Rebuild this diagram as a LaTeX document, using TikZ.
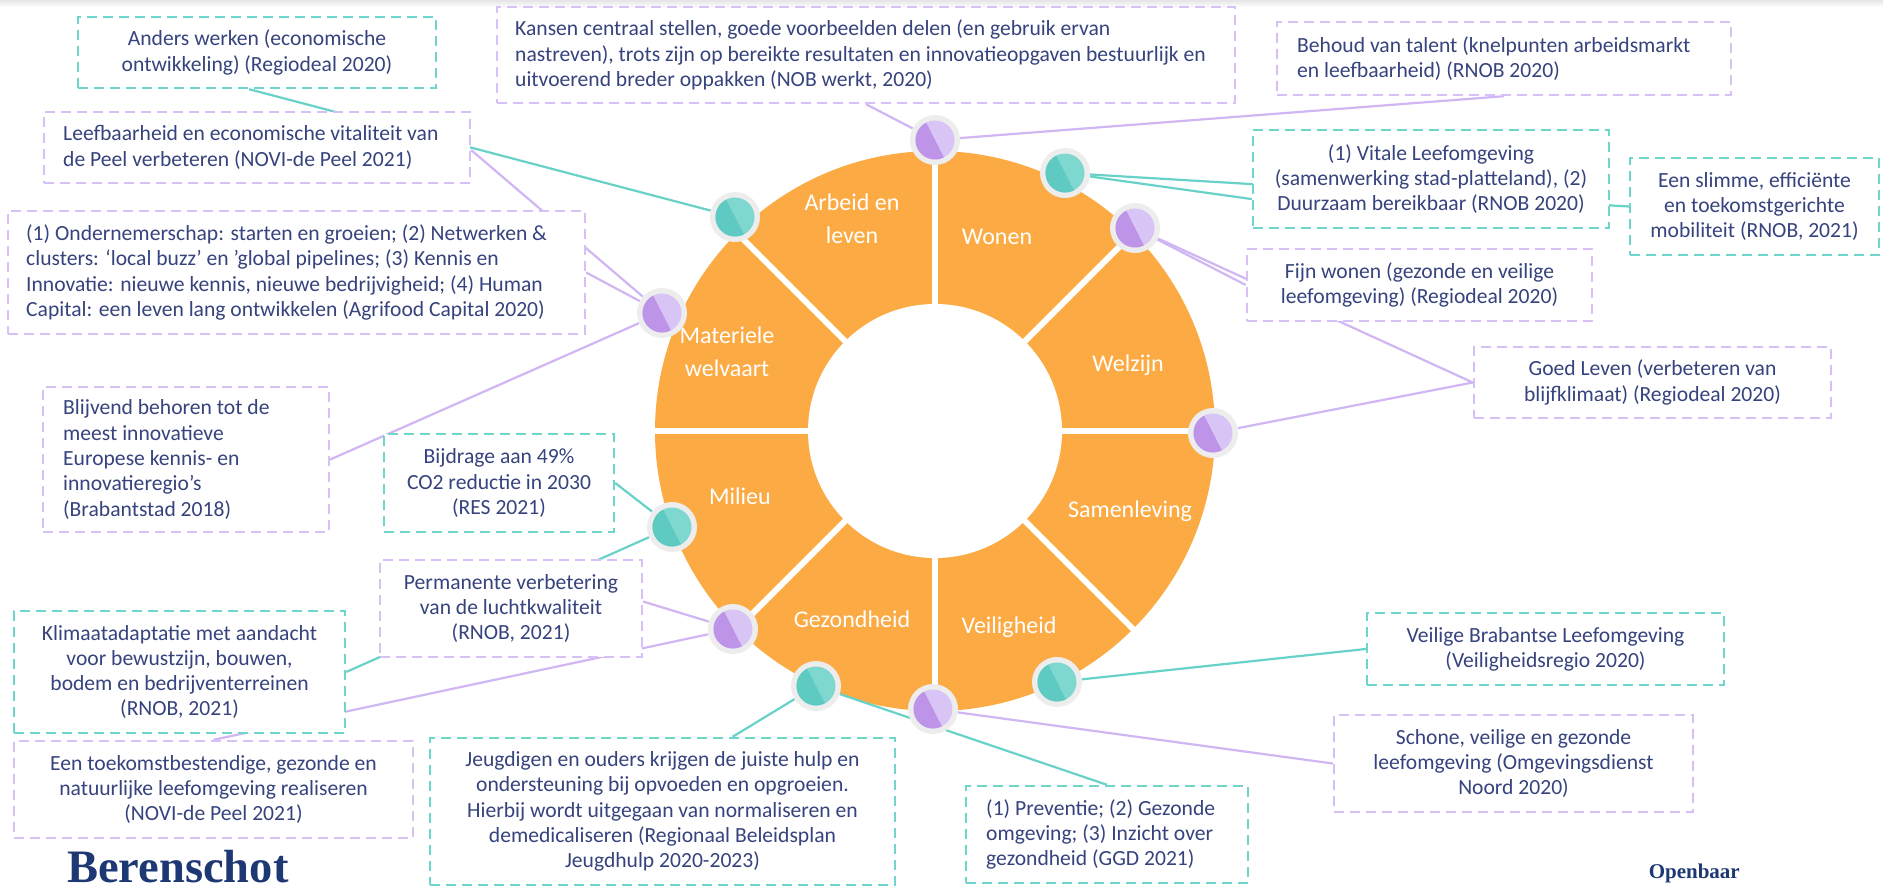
\documentclass[tikz,border=0pt]{standalone}
\usepackage{fontspec}
\setmainfont{Carlito}
\newfontfamily\logofont{Liberation Serif}
\usetikzlibrary{calc}
\definecolor{ringor}{RGB}{252,170,67}
\definecolor{tealdash}{RGB}{112,214,205}
\definecolor{purpdash}{RGB}{214,192,245}
\definecolor{teallink}{RGB}{105,210,200}
\definecolor{purplink}{RGB}{208,182,242}
\definecolor{mkring}{RGB}{237,237,237}
\definecolor{mpd}{RGB}{190,148,232}
\definecolor{mpl}{RGB}{217,197,245}
\definecolor{mtd}{RGB}{94,202,194}
\definecolor{mtl}{RGB}{126,216,208}
\definecolor{txtblue}{RGB}{54,67,125}
\definecolor{logoblue}{RGB}{30,56,115}
\newcommand\boxfont{\fontsize{21.6bp}{25.3bp}\selectfont}
\newcommand\lblfont{\fontsize{24bp}{33bp}\selectfont}
\pgfdeclarelayer{bglayer}
\pgfdeclarelayer{ringlayer}
\pgfdeclarelayer{linklayer}
\pgfsetlayers{bglayer,ringlayer,linklayer,main}
\tikzset{
  tbx/.style={draw=tealdash, line width=2.4bp, dash pattern=on 10bp off 6bp, fill=white,
    inner sep=0pt, align=center, text=txtblue, font=\boxfont},
  pbx/.style={draw=purpdash, line width=2.4bp, dash pattern=on 10bp off 6bp, fill=white,
    inner sep=0pt, align=center, text=txtblue, font=\boxfont},
  txt/.style={inner sep=0pt, align=left, text=txtblue, font=\boxfont},
  lbl/.style={inner sep=0pt, align=center, text=white, font=\lblfont},
  tl/.style={draw=teallink, line width=2.2bp},
  pl/.style={draw=purplink, line width=2.2bp},
  mkp/.style={circle, inner sep=0pt, minimum size=50bp, fill=mkring, path picture={
    \fill[mpl] (path picture bounding box.center) circle[radius=19.5bp];
    \fill[mpd] (path picture bounding box.center) ++(117:19.5bp)
      arc[start angle=117, end angle=297, radius=19.5bp] -- cycle;}},
  mkt/.style={circle, inner sep=0pt, minimum size=50bp, fill=mkring, path picture={
    \fill[mtl] (path picture bounding box.center) circle[radius=19.5bp];
    \fill[mtd] (path picture bounding box.center) ++(117:19.5bp)
      arc[start angle=117, end angle=297, radius=19.5bp] -- cycle;}}
}
\begin{document}
\begin{tikzpicture}[x=1bp,y=-1bp]
\useasboundingbox (0,0) rectangle (1883,887);
\begin{pgfonlayer}{bglayer}
\fill[white] (0,0) rectangle (1883,887);
\shade[top color=black!10, bottom color=white] (0,0) rectangle (1883,7);
\end{pgfonlayer}

% ring
\coordinate (C) at (935,431);
\begin{pgfonlayer}{ringlayer}
\fill[ringor] (C) circle[radius=280bp];
\fill[white] (C) circle[radius=127bp];
\foreach \a in {0,45,...,315}
  \draw[white, line width=6bp] ($(C)+(\a:122bp)$) -- ($(C)+(\a:284bp)$);
\end{pgfonlayer}

% segment labels
\node[lbl] (l1) at (852,219) {Arbeid en\\leven};
\node[lbl, anchor=base] (l2) at (997,244) {Wonen};
\node[lbl, anchor=base] (l3) at (1128,371) {Welzijn};
\node[lbl, anchor=base] (l4) at (1130,517) {Samenleving};
\node[lbl, anchor=base] (l5) at (1009,633) {Veiligheid};
\node[lbl, anchor=base] (l6) at (852,627) {Gezondheid};
\node[lbl, anchor=base] (l7) at (740,504) {Milieu};
\node[lbl] (l8) at (727,352) {Materiele\\welvaart};

% boxes
\node[tbx, minimum width=358bp, minimum height=71bp] (b1) at (257,52.5)
  {Anders werken (economische\\ontwikkeling) (Regiodeal 2020)};
\node[pbx, minimum width=426bp, minimum height=71bp] (b2) at (257,147.5) {};
\node[txt, anchor=west] (t2) at (63,147.5)
  {Leefbaarheid en economische vitaliteit van\\de Peel verbeteren (NOVI-de Peel 2021)};
\node[pbx, minimum width=738bp, minimum height=96bp] (b3) at (866,55) {};
\node[txt, anchor=west] (t3) at (515,55)
  {Kansen centraal stellen, goede voorbeelden delen (en gebruik ervan\\nastreven), trots zijn op bereikte resultaten en innovatieopgaven bestuurlijk en\\uitvoerend breder oppakken (NOB werkt, 2020)};
\node[pbx, minimum width=454bp, minimum height=73bp] (b4) at (1504,58.5) {};
\node[txt, anchor=west] (t4) at (1297,58.5)
  {Behoud van talent (knelpunten arbeidsmarkt\\en leefbaarheid) (RNOB 2020)};
\node[tbx, minimum width=356bp, minimum height=98bp] (b5) at (1431,179)
  {(1) Vitale Leefomgeving\\(samenwerking stad-platteland), (2)\\Duurzaam bereikbaar (RNOB 2020)};
\node[tbx, minimum width=249bp, minimum height=97bp] (b6) at (1754.5,206.5)
  {Een slimme, efficiënte\\en toekomstgerichte\\mobiliteit (RNOB, 2021)};
\node[pbx, minimum width=345bp, minimum height=72bp] (b7) at (1419.5,285)
  {Fijn wonen (gezonde en veilige\\leefomgeving) (Regiodeal 2020)};
\node[pbx, minimum width=357bp, minimum height=71bp] (b8) at (1652.5,382.5)
  {Goed Leven (verbeteren van\\blijfklimaat) (Regiodeal 2020)};
\node[pbx, minimum width=577bp, minimum height=123bp] (b9) at (296.5,272.5) {};
\node[txt, anchor=west] (t9) at (26,272.5)
  {(1) Ondernemerschap: starten en groeien; (2) Netwerken \&\\clusters: ‘local buzz’ en ’global pipelines; (3) Kennis en\\Innovatie: nieuwe kennis, nieuwe bedrijvigheid; (4) Human\\Capital: een leven lang ontwikkelen (Agrifood Capital 2020)};
\node[pbx, minimum width=286bp, minimum height=145bp] (b10) at (186,459.5) {};
\node[txt, anchor=west] (t10) at (63,459.5)
  {Blijvend behoren tot de\\meest innovatieve\\Europese kennis- en\\innovatieregio’s\\(Brabantstad 2018)};
\node[tbx, minimum width=230bp, minimum height=98bp] (b11) at (499,483)
  {Bijdrage aan 49\%\\CO2 reductie in 2030\\(RES 2021)};
\node[pbx, minimum width=262bp, minimum height=97bp] (b12) at (511,608.5)
  {Permanente verbetering\\van de luchtkwaliteit\\(RNOB, 2021)};
\node[tbx, minimum width=331bp, minimum height=122bp] (b13) at (179.5,672)
  {Klimaatadaptatie met aandacht\\voor bewustzijn, bouwen,\\bodem en bedrijventerreinen\\(RNOB, 2021)};
\node[pbx, minimum width=399bp, minimum height=97bp] (b14) at (213.5,789.5)
  {Een toekomstbestendige, gezonde en\\natuurlijke leefomgeving realiseren\\(NOVI-de Peel 2021)};
\node[tbx, minimum width=465bp, minimum height=147bp] (b15) at (662.5,811.5)
  {Jeugdigen en ouders krijgen de juiste hulp en\\ondersteuning bij opvoeden en opgroeien.\\Hierbij wordt uitgegaan van normaliseren en\\demedicaliseren (Regionaal Beleidsplan\\Jeugdhulp 2020-2023)};
\node[tbx, minimum width=282bp, minimum height=97bp] (b16) at (1107,834.5) {};
\node[txt, anchor=west] (t16) at (986,834.5)
  {(1) Preventie; (2) Gezonde\\omgeving; (3) Inzicht over\\gezondheid (GGD 2021)};
\node[tbx, minimum width=357bp, minimum height=72bp] (b17) at (1545.5,649)
  {Veilige Brabantse Leefomgeving\\(Veiligheidsregio 2020)};
\node[pbx, minimum width=359bp, minimum height=97bp] (b18) at (1513.5,763.5)
  {Schone, veilige en gezonde\\leefomgeving (Omgevingsdienst\\Noord 2020)};

% markers
\node[mkt] (m1) at (735,217) {};
\node[mkp] (m2) at (662,313) {};
\node[mkp] (m3) at (935,140) {};
\node[mkt] (m4) at (1065,173) {};
\node[mkp] (m5) at (1135,228) {};
\node[mkp] (m6) at (1213,433) {};
\node[mkt] (m7) at (672,527) {};
\node[mkp] (m8) at (733,629) {};
\node[mkt] (m9) at (816,686) {};
\node[mkp] (m10) at (933,709) {};
\node[mkt] (m11) at (1057,682) {};

% connectors
\begin{pgfonlayer}{linklayer}
\draw[tl] (m1) -- ($(b1.south west)!0.478!(b1.south east)$);
\draw[pl] (m2) -- ($(b2.north east)!0.535!(b2.south east)$);
\draw[pl] (m2) -- (b9.east);
\draw[pl] (m2) -- (b10.east);
\draw[pl] (m3) -- (b3.south);
\draw[pl] (m3) -- (b4.south);
\draw[tl] (m4) -- (b6.west);
\draw[tl] (m4) -- ($(b5.north west)!0.7!(b5.south west)$);
\draw[pl] (m5) -- (b8.west);
\draw[pl] (m5) -- (b7.west);
\draw[pl] (m6) -- (b8.west);
\draw[tl] (m7) -- (b11.east);
\draw[tl] (m7) -- (b13.east);
\draw[pl] (m8) -- ($(b12.north east)!0.43!(b12.south east)$);
\draw[pl] (m8) -- (b14.north);
\draw[tl] (m9) -- ($(b15.north west)!0.65!(b15.north east)$);
\draw[tl] (m9) -- (b16.north);
\draw[pl] (m10) -- (b18.west);
\draw[tl] (m11) -- (b17.west);
\end{pgfonlayer}

% logos
\node[inner sep=0pt, anchor=base west, text=logoblue, font=\logofont\bfseries\fontsize{46.5bp}{50bp}\selectfont] (logo) at (67,882) {Berenschot};
\node[inner sep=0pt, anchor=base east, text=logoblue, font=\logofont\bfseries\fontsize{21bp}{24bp}\selectfont] (open) at (1740,878) {Openbaar};
\end{tikzpicture}
\end{document}
